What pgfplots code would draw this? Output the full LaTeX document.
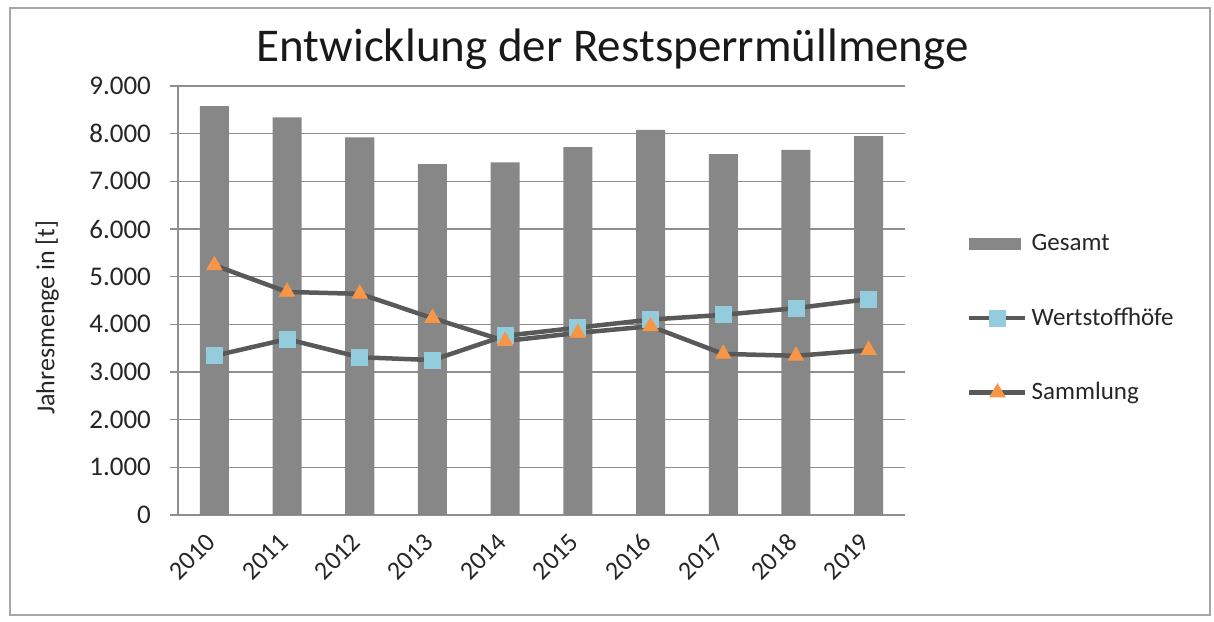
\documentclass[border=0pt]{standalone}
\usepackage{pgfplots}
\pgfplotsset{compat=1.18}
\usetikzlibrary{calc}
\usepackage{fontspec}
\setmainfont{Carlito}
\definecolor{bargray}{HTML}{878787}
\definecolor{linegray}{HTML}{595959}
\definecolor{sqblue}{HTML}{93CDDD}
\definecolor{triorange}{HTML}{F79646}
\definecolor{gridgray}{HTML}{8E8E8E}
\begin{document}
\begin{tikzpicture}[x=1pt,y=1pt]
\begin{axis}[
  scale only axis, width=363.5pt, height=214.5pt,
  xmin=-0.5, xmax=9.5, ymin=0, ymax=9000,
  axis x line*=bottom, axis y line*=left,
  axis line style={gridgray, line width=0.75pt},
  ytick={0,1000,...,9000},
  ymajorgrids, grid style={gridgray, line width=0.75pt},
  yticklabel style={xshift=-6pt, font=\fontsize{13.5}{15}\selectfont, text=black!85, /pgf/number format/assume math mode=true},
  /pgf/number format/1000 sep={.},
  scaled y ticks=false,
  tick align=outside,
  major tick length=4pt, minor tick length=4pt,
  ytick style={gridgray, line width=0.75pt},
  xtick={0,...,9},
  xticklabels={2010,2011,2012,2013,2014,2015,2016,2017,2018,2019},
  xtick style={draw=none},
  minor xtick={-0.5,0.5,...,9.5},
  minor tick style={gridgray, line width=0.75pt},
  xticklabel style={xshift=0.7pt, yshift=-5pt, rotate=45, anchor=east, font=\fontsize{13}{15}\selectfont, text=black!85},
  ylabel={Jahresmenge in [t]},
  ylabel style={at={(axis description cs:-0.180,0.46)}, anchor=center, font=\fontsize{13}{15}\selectfont, text=black!85},
  title={Entwicklung der Restsperrmüllmenge},
  title style={at={(axis description cs:0.598,1.03)}, anchor=base, font=\fontsize{23.5}{28}\selectfont, text=black!90},
  legend style={at={(axis description cs:1.085,0.664)}, anchor=north west, draw=none, fill=none, row sep=23pt, font=\fontsize{12.5}{14}\selectfont, text=black!85, inner sep=0pt},
  legend cell align=left,
]
\addplot[ybar, bar width=14.5pt, fill=bargray, draw=none,
  legend image code/.code={\fill[bargray] (0pt,-3pt) rectangle (26pt,3pt);}]
  coordinates {(0,8580) (1,8340) (2,7920) (3,7360) (4,7400) (5,7720) (6,8080) (7,7570) (8,7660) (9,7950)};
\addlegendentry{Gesamt}
\addplot[linegray, line width=2.25pt, mark=square*, mark size=4pt, mark options={fill=sqblue, draw=sqblue, line width=0.4pt},
  legend image code/.code={\draw[mark repeat=2,mark phase=2] plot coordinates {(0pt,0pt) (14pt,0pt) (28pt,0pt)};}]
  coordinates {(0,3340) (1,3690) (2,3310) (3,3250) (4,3760) (5,3930) (6,4100) (7,4200) (8,4340) (9,4530)};
\addlegendentry{Wertstoffhöfe}
\addplot[linegray, line width=2.25pt, mark=triangle*, mark size=4.4pt, mark options={fill=triorange, draw=triorange, line width=0.4pt},
  legend image code/.code={\draw[mark repeat=2,mark phase=2] plot coordinates {(0pt,0pt) (14pt,0pt) (28pt,0pt)};}]
  coordinates {(0,5240) (1,4680) (2,4640) (3,4130) (4,3650) (5,3820) (6,3960) (7,3380) (8,3340) (9,3460)};
\addlegendentry{Sammlung}
\coordinate (O) at (rel axis cs:0,0);
\end{axis}
\draw[gray!70, line width=0.8pt] ($(O)+(-84,-50)$) rectangle ($(O)+(516,253.5)$);
\path[use as bounding box] ($(O)+(-89,-53)$) rectangle ($(O)+(518,257.5)$);
\end{tikzpicture}
\end{document}
